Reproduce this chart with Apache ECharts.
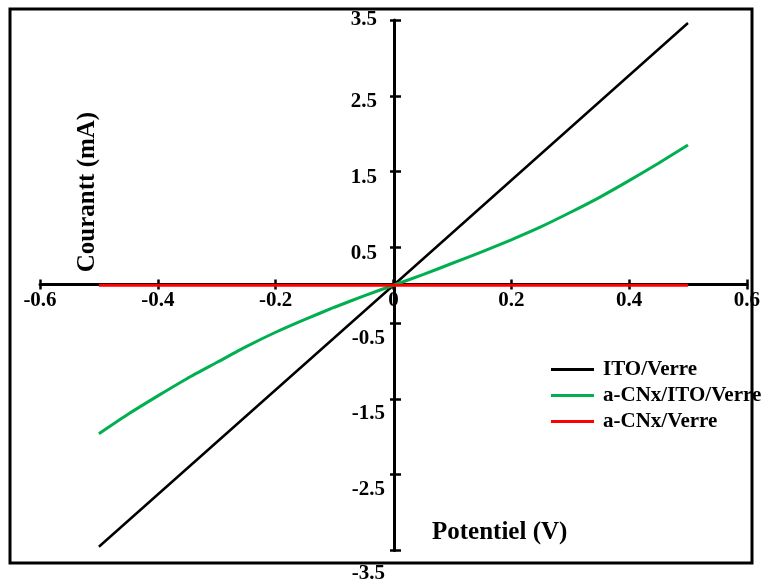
<!DOCTYPE html>
<html>
<head>
<meta charset="utf-8">
<script src="https://cdn.jsdelivr.net/npm/echarts@6/dist/echarts.min.js"></script>
<style>
html,body{margin:0;padding:0;background:#fff;}
#chart{width:763px;height:584px;}
</style>
</head>
<body>
<div id="chart"></div>
<script>
// ---- data ----
var seriesNames = ['ITO/Verre', 'a-CNx/ITO/Verre', 'a-CNx/Verre'];
var itoX = [-0.5, 0, 0.5];
var itoY = [-3.45, 0, 3.46];
var cnxItoX = [-0.5, -0.45, -0.4, -0.35, -0.3, -0.25, -0.2, -0.15, -0.1, -0.05, 0, 0.05, 0.1, 0.15, 0.2, 0.25, 0.3, 0.35, 0.4, 0.45, 0.5];
var cnxItoY = [-1.96, -1.70, -1.46, -1.23, -1.02, -0.81, -0.62, -0.45, -0.29, -0.14, 0, 0.14, 0.29, 0.44, 0.60, 0.77, 0.96, 1.16, 1.38, 1.61, 1.85];
var cnxX = [-0.5, 0, 0.5];
var cnxY = [0, 0, 0];
var xTickValues = [-0.6, -0.4, -0.2, 0, 0.2, 0.4, 0.6];
var xTickLabels = ['-0.6', '-0.4', '-0.2', '0', '0.2', '0.4', '0.6'];
var yTickValues = [-3.5, -2.5, -1.5, -0.5, 0.5, 1.5, 2.5, 3.5];
var yTickLabels = ['-3.5', '-2.5', '-1.5', '-0.5', '0.5', '1.5', '2.5', '3.5'];
var xAxisName = 'Potentiel (V)';
var yAxisName = 'Courantt (mA)';

function pairs(xs, ys) { return xs.map(function (x, i) { return [x, ys[i]]; }); }

var FONT = '"Liberation Serif", "Times New Roman", serif';
var LBL = 21;
var GRID = { left: 40, right: 15, top: 20, bottom: 32 };
var W = 763, H = 584;
var XMIN = -0.6, XMAX = 0.6, YMIN = -3.5, YMAX = 3.5;
// offset so that the axes cross at the origin (value 0 of the other axis)
var plotW = W - GRID.left - GRID.right, plotH = H - GRID.top - GRID.bottom;
var yAxisOffset = -((0 - XMIN) / (XMAX - XMIN)) * plotW;
var xAxisOffset = -((0 - YMIN) / (YMAX - YMIN)) * plotH;

var chart = echarts.init(document.getElementById('chart'));
var axisLineStyle = { color: '#000', width: 3 };
var tickStyle = { color: '#000', width: 2.5 };

function findLabel(vals, labels, v) {
  for (var i = 0; i < vals.length; i++) if (Math.abs(vals[i] - v) < 1e-9) return labels[i];
  return '';
}
function rs(pad) { return { fontFamily: FONT, fontWeight: 'bold', fontSize: LBL, color: '#000', padding: pad }; }

chart.setOption({
  animation: false,
  backgroundColor: '#fff',
  grid: GRID,
  xAxis: [{
    type: 'value', min: XMIN, max: XMAX, position: 'bottom', offset: xAxisOffset,
    axisLine: { onZero: false, lineStyle: axisLineStyle },
    axisTick: { show: true, customValues: xTickValues, length: 5, lineStyle: tickStyle },
    axisLabel: {
      customValues: xTickValues, margin: 6,
      formatter: function (v) { return findLabel(xTickValues, xTickLabels, v); },
      fontFamily: FONT, fontWeight: 'bold', fontSize: LBL, color: '#000'
    },
    splitLine: { show: false }
  }, {
    type: 'value', min: XMIN, max: XMAX, position: 'bottom', offset: xAxisOffset,
    axisLine: { onZero: false, show: false },
    axisTick: { show: true, inside: true, customValues: xTickValues, length: 5, lineStyle: tickStyle },
    axisLabel: { show: false }, splitLine: { show: false }
  }],
  yAxis: [{
    type: 'value', min: YMIN, max: YMAX, position: 'left', offset: yAxisOffset,
    axisLine: { onZero: false, lineStyle: axisLineStyle },
    axisTick: { show: true, inside: true, customValues: yTickValues, length: 7, lineStyle: tickStyle },
    axisLabel: {
      customValues: yTickValues, margin: 8,
      formatter: function (v) {
        var s = findLabel(yTickValues, yTickLabels, v);
        if (!s) return '';
        if (v < -3) return '{b|' + s + '}';
        if (v > 3) return '{t|' + s + '}';
        return v < 0 ? '{n|' + s + '}' : '{p|' + s + '}';
      },
      rich: {
        t: rs([0, 9, 0, 0]),
        p: rs([12, 9, 0, 0]),
        n: rs([30, 1, 0, 0]),
        b: rs([46, 1, 0, 0])
      }
    },
    splitLine: { show: false }
  }, {
    type: 'value', min: YMIN, max: YMAX, position: 'left', offset: yAxisOffset,
    axisLine: { onZero: false, show: false },
    axisTick: { show: true, customValues: yTickValues, length: 4, lineStyle: tickStyle },
    axisLabel: { show: false }, splitLine: { show: false }
  }],
  legend: {
    orient: 'vertical', left: 546, top: 354,
    itemWidth: 43, itemHeight: 3, itemGap: 5, icon: 'rect',
    data: seriesNames,
    textStyle: { fontFamily: FONT, fontWeight: 'bold', fontSize: 21, color: '#000', padding: [0, 0, 0, 4] }
  },
  graphic: [
    { type: 'rect', shape: { x: 10, y: 9, width: 742, height: 554 }, style: { fill: 'none', stroke: '#000', lineWidth: 3 }, z: 100 },
    { type: 'text', x: 432, y: 533, style: { text: xAxisName, font: 'bold 25px ' + FONT, fill: '#000', textVerticalAlign: 'middle' } },
    { type: 'text', x: 88, y: 192, rotation: Math.PI / 2, style: { text: yAxisName, font: 'bold 25px ' + FONT, fill: '#000', textAlign: 'center', textVerticalAlign: 'middle' } }
  ],
  series: [
    { name: seriesNames[0], type: 'line', data: pairs(itoX, itoY), showSymbol: false, symbol: 'none', color: '#000', lineStyle: { color: '#000', width: 2.5 }, z: 3 },
    { name: seriesNames[1], type: 'line', data: pairs(cnxItoX, cnxItoY), smooth: 0.2, showSymbol: false, symbol: 'none', color: '#00B050', lineStyle: { color: '#00B050', width: 3 }, z: 4 },
    { name: seriesNames[2], type: 'line', data: pairs(cnxX, cnxY), showSymbol: false, symbol: 'none', color: '#FF0000', lineStyle: { color: '#FF0000', width: 3 }, z: 5 }
  ]
});
</script>
</body>
</html>
